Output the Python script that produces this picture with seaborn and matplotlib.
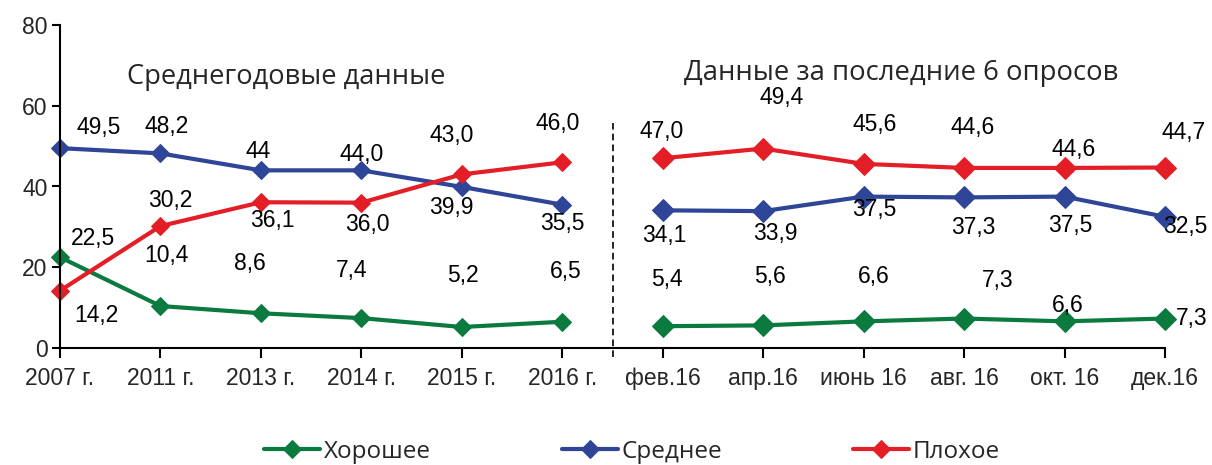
import matplotlib
matplotlib.use('Agg')
import matplotlib.pyplot as plt
import seaborn as sns
import pandas as pd

# Categories and series
categories = ['2007 г.', '2011 г.', '2013 г.', '2014 г.', '2015 г.', '2016 г.',
              'фев.16', 'апр.16', 'июнь 16', 'авг. 16', 'окт. 16', 'дек.16']
good = [22.5, 10.4, 8.6, 7.4, 5.2, 6.5, 5.4, 5.6, 6.6, 7.3, 6.6, 7.3]
medium = [49.5, 48.2, 44.0, 44.0, 39.9, 35.5, 34.1, 33.9, 37.5, 37.3, 37.5, 32.5]
bad = [14.2, 30.2, 36.1, 36.0, 43.0, 46.0, 47.0, 49.4, 45.6, 44.6, 44.6, 44.7]

# printed labels (as on the original chart)
good_labels = ['22,5', '10,4', '8,6', '7,4', '5,2', '6,5', '5,4', '5,6', '6,6', '7,3', '6,6', '7,3']
medium_labels = ['49,5', '48,2', '44', '44,0', '39,9', '35,5', '34,1', '33,9', '37,5', '37,3', '37,5', '32,5']
bad_labels = ['14,2', '30,2', '36,1', '36,0', '43,0', '46,0', '47,0', '49,4', '45,6', '44,6', '44,6', '44,7']

series_names = ['Хорошее', 'Среднее', 'Плохое']
colors = ['#0b7a3e', '#2e4598', '#e31e26']

# label offsets in pixels (dx, dy with dy>0 meaning down on screen)
good_off = [(33, -19), (6, -51), (-11, -50), (-10, -48), (1, -52), (3, -50),
            (4, -47), (7, -49), (10, -45), (34, -38), (3, -16), (27, 0)]
medium_off = [(39, -21), (6, -27), (-3, -19), (0, -16), (-10, 21), (0, 19),
              (2, 25), (12, 22), (11, 13), (9, 30), (6, 29), (20, 10)]
bad_off = [(36, 25), (10, -26), (11, 18), (6, 22), (-10, -39), (-5, -39),
           (-1, -27), (18, -51), (11, -39), (9, -40), (9, -18), (19, -35)]

sns.set_style('ticks')
plt.rcParams['font.family'] = ['Liberation Sans', 'DejaVu Sans']

fig = plt.figure(figsize=(12.12, 4.65), dpi=100)
ax = fig.add_axes([60 / 1212, 1 - 348 / 465, (1165 - 60) / 1212, (348 - 25) / 465])

x = list(range(len(categories)))
segments = [(0, 6), (6, 12)]
for name, vals, col in zip(series_names, [good, medium, bad], colors):
    for k, (a, b) in enumerate(segments):
        df = pd.DataFrame({'x': x[a:b], 'y': vals[a:b]})
        sns.lineplot(data=df, x='x', y='y', ax=ax, color=col, linewidth=3,
                     marker='D', markersize=11, markeredgecolor=col,
                     label=name if k == 0 else None, clip_on=False)

# data labels
for vals, labs, offs in [(good, good_labels, good_off),
                         (medium, medium_labels, medium_off),
                         (bad, bad_labels, bad_off)]:
    for i, (v, t, (dx, dy)) in enumerate(zip(vals, labs, offs)):
        ax.annotate(t, (i, v), xytext=(dx, -dy), textcoords='offset pixels',
                    ha='center', va='center', fontsize=16.5, color='black')

# dashed separator
ax.plot([5.5, 5.5], [-2.2, 55.7], color='black', linestyle=(0, (4, 2.5)),
        linewidth=1.2, clip_on=False)

ax.text(2.25, 67.2, 'Среднегодовые данные', ha='center', va='center', fontsize=19.6,
        family=['Open Sans', 'DejaVu Sans'])
ax.text(8.37, 68.0, 'Данные за последние 6 опросов', ha='center', va='center', fontsize=19.8,
        family=['Open Sans', 'DejaVu Sans'])

ax.set_xlim(0, 11)
ax.set_ylim(0, 80)
ax.set_yticks([0, 20, 40, 60, 80])
ax.set_xticks(x)
ax.set_xticklabels(categories)
ax.set_xlabel('')
ax.set_ylabel('')
ax.tick_params(axis='x', labelsize=16.5, length=7, width=1.5, pad=7, direction='out', color='black')
ax.tick_params(axis='y', labelsize=16.5, length=6, width=1.5, pad=3, direction='out', color='black')
for s in ['top', 'right']:
    ax.spines[s].set_visible(False)
for s in ['left', 'bottom']:
    ax.spines[s].set_linewidth(1.5)
    ax.spines[s].set_color('black')

handles, labels = ax.get_legend_handles_labels()
ax.get_legend().remove()
for h in handles:
    h.set_markersize(9)
fig.legend(handles, labels, loc='center', bbox_to_anchor=(632 / 1212, 1 - 452 / 465),
           ncol=3, frameon=False, handlelength=2.3, handletextpad=0.15, columnspacing=5.4,
           prop={'family': ['Open Sans', 'DejaVu Sans'], 'size': 17.5})

fig.savefig('out.png', dpi=100)
